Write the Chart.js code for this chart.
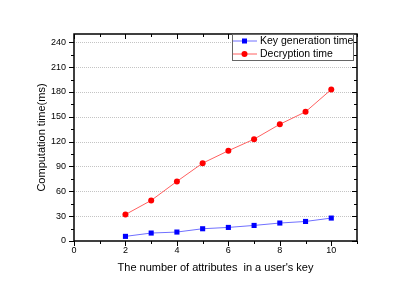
<!DOCTYPE html>
<html>
<head>
<meta charset="utf-8">
<script src="https://cdn.jsdelivr.net/npm/chart.js@4"></script>
<style>
  html, body { margin: 0; padding: 0; background: #fff; }
  #wrap { width: 415px; height: 290px; }
</style>
</head>
<body>
<div id="wrap"><canvas id="c" width="415" height="290"></canvas></div>
<script>
const FONT = "'Liberation Sans', Arial, sans-serif";

const attributes = [2, 3, 4, 5, 6, 7, 8, 9, 10];
const keyGenTime = [5.6, 9.6, 10.8, 14.8, 16.4, 18.8, 21.7, 23.6, 27.7];
const decryptTime = [32, 49, 72, 94, 109, 123, 141, 156, 183];
const seriesLabels = ['Key generation time', 'Decryption time'];
const yTicks = [0, 30, 60, 90, 120, 150, 180, 210, 240];
const xTicks = [0, 2, 4, 6, 8, 10];
const xTitle = "The number of attributes  in a user's key";
const yTitle = 'Computation time(ms)';

// dotted grid behind the lines
const gridPlugin = {
  id: 'dotGrid',
  beforeDatasetsDraw(chart) {
    const { ctx, chartArea: { left, right } } = chart;
    const ys = chart.scales.y;
    ctx.save();
    ctx.strokeStyle = '#c4c4c4';
    ctx.lineWidth = 1;
    ctx.setLineDash([1, 1]);
    ctx.beginPath();
    yTicks.slice(1).forEach(v => {
      const y = Math.round(ys.getPixelForValue(v)) + 0.5;
      ctx.moveTo(left, y); ctx.lineTo(right, y);
    });
    ctx.stroke();
    ctx.restore();
  }
};

// frame, ticks, axis titles and in-plot legend, drawn the Origin way
const framePlugin = {
  id: 'frame',
  afterDraw(chart) {
    const { ctx, chartArea: { left, right, top, bottom } } = chart;
    const xs = chart.scales.x, ys = chart.scales.y;
    ctx.save();
    ctx.strokeStyle = '#000';
    ctx.lineWidth = 1;
    ctx.beginPath();
    for (let v = 0; v <= 250; v += 15) {
      const y = Math.round(ys.getPixelForValue(v)) + 0.5;
      const len = v % 30 === 0 ? 5 : 3;
      ctx.moveTo(left, y); ctx.lineTo(left - len, y);
      ctx.moveTo(right, y); ctx.lineTo(right - len, y);
    }
    for (let v = 0; v <= 11; v += 1) {
      const x = Math.round(xs.getPixelForValue(v)) + 0.5;
      const len = v % 2 === 0 ? 5 : 3;
      ctx.moveTo(x, bottom); ctx.lineTo(x, bottom + len);
      ctx.moveTo(x, top); ctx.lineTo(x, top + len);
    }
    ctx.stroke();
    ctx.lineWidth = 1.5;
    ctx.strokeRect(left, top, right - left, bottom - top);

    // axis titles
    ctx.fillStyle = '#000';
    ctx.font = '11px ' + FONT;
    ctx.textAlign = 'center';
    ctx.textBaseline = 'middle';
    ctx.fillText(xTitle, (left + right) / 2, 268);
    ctx.save();
    ctx.translate(42, (top + bottom) / 2);
    ctx.rotate(-Math.PI / 2);
    ctx.fillText(yTitle, 0, 0);
    ctx.restore();

    // legend
    const lx = 232, ly = 34, lw = 121, lh = 26;
    ctx.fillStyle = '#fff';
    ctx.fillRect(lx, ly, lw, lh);
    ctx.strokeStyle = '#666';
    ctx.lineWidth = 1;
    ctx.strokeRect(lx + 0.5, ly + 0.5, lw, lh);
    ctx.font = '10.5px ' + FONT;
    ctx.textAlign = 'left';
    chart.data.datasets.forEach((ds, i) => {
      const y = ly + 7 + i * 13;
      ctx.strokeStyle = ds.borderColor;
      ctx.beginPath();
      ctx.moveTo(lx + 1, y); ctx.lineTo(lx + 25, y);
      ctx.stroke();
      ctx.fillStyle = ds.pointBackgroundColor;
      if (ds.pointStyle === 'rect') {
        ctx.fillRect(lx + 10, y - 2.5, 5, 5);
      } else {
        ctx.beginPath();
        ctx.arc(lx + 12.5, y, 3, 0, Math.PI * 2);
        ctx.fill();
      }
      ctx.fillStyle = '#000';
      ctx.fillText(ds.label, lx + 28, y + 0.5);
    });
    ctx.restore();
  }
};

new Chart(document.getElementById('c'), {
  type: 'line',
  data: {
    datasets: [
      {
        label: seriesLabels[0],
        data: attributes.map((a, i) => ({ x: a, y: keyGenTime[i] })),
        borderColor: '#7070ff',
        borderWidth: 1,
        pointStyle: 'rect',
        pointRadius: 3.6,
        pointBackgroundColor: '#0000ff',
        pointBorderColor: '#0000ff',
        pointBorderWidth: 0
      },
      {
        label: seriesLabels[1],
        data: attributes.map((a, i) => ({ x: a, y: decryptTime[i] })),
        borderColor: '#ff6060',
        borderWidth: 1,
        pointStyle: 'circle',
        pointRadius: 3,
        pointBackgroundColor: '#ff0000',
        pointBorderColor: '#ff0000',
        pointBorderWidth: 0
      }
    ]
  },
  options: {
    responsive: false,
    animation: false,
    layout: { padding: { left: 0, right: 58, top: 34, bottom: 0 } },
    plugins: { legend: { display: false }, tooltip: { enabled: false } },
    scales: {
      x: {
        type: 'linear',
        min: 0,
        max: 11,
        afterFit: s => { s.height = 49; },
        afterBuildTicks: s => { s.ticks = xTicks.map(v => ({ value: v })); },
        ticks: {
          font: { family: FONT, size: 9 },
          color: '#000',
          padding: 4,
          maxRotation: 0
        },
        grid: { display: false, drawTicks: false },
        border: { display: false }
      },
      y: {
        min: 0,
        max: 250,
        afterFit: s => { s.width = 74; },
        afterBuildTicks: s => { s.ticks = yTicks.map(v => ({ value: v })); },
        ticks: {
          font: { family: FONT, size: 9 },
          color: '#000',
          padding: 8
        },
        grid: { display: false, drawTicks: false },
        border: { display: false }
      }
    }
  },
  plugins: [gridPlugin, framePlugin]
});
</script>
</body>
</html>
